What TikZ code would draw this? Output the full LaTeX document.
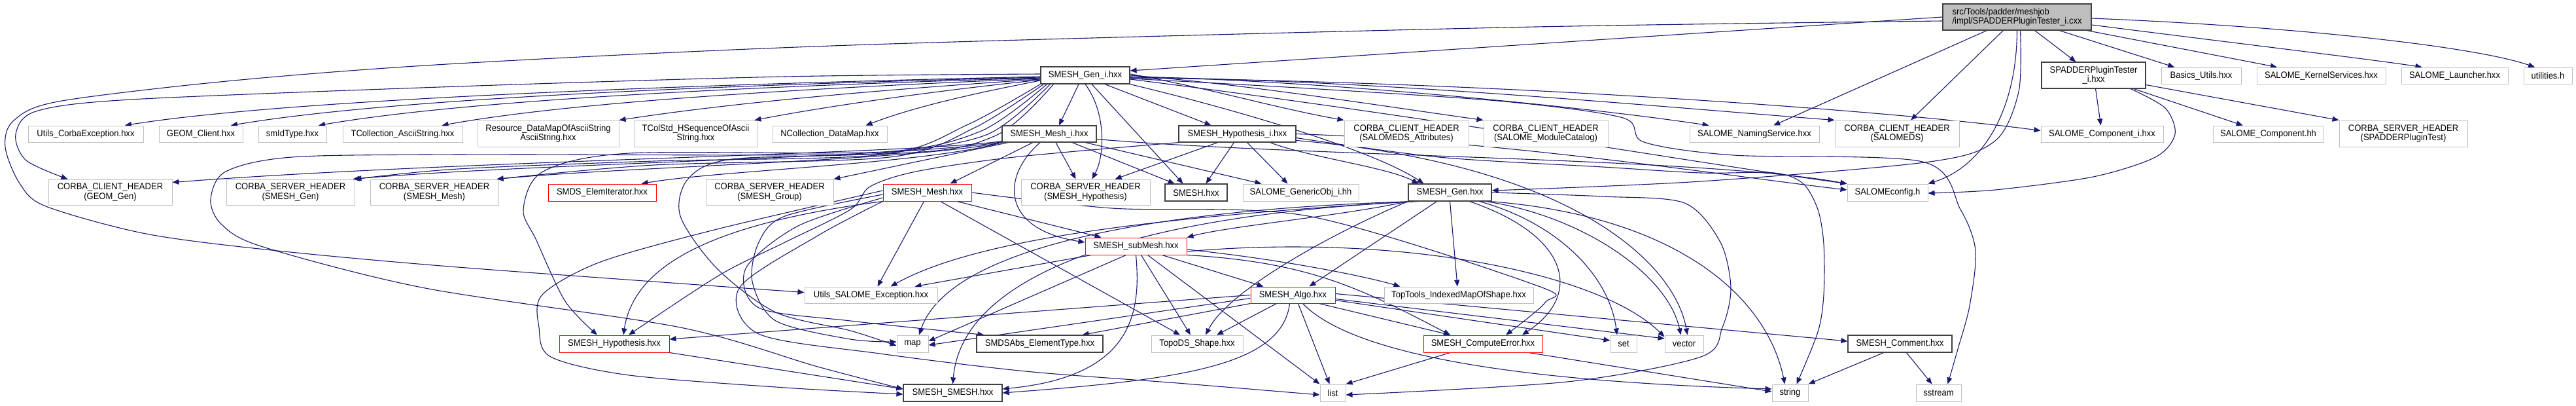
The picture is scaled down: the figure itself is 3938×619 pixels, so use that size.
\documentclass[tikz,border=0pt]{standalone}
\usepackage{fontspec}
\setmainfont{Liberation Sans}[FakeStretch=0.93]
\usetikzlibrary{arrows.meta}
\definecolor{edgec}{HTML}{191970}
\definecolor{gborder}{HTML}{C0C0C0}
\definecolor{kborder}{HTML}{404040}
\definecolor{topfill}{HTML}{BFBFBF}
\pgfdeclarelayer{edgelayer}
\pgfsetlayers{edgelayer,main}
\tikzset{
  nbase/.style={rectangle, inner sep=0pt, fill=white, font=\fontsize{14}{14.3}\selectfont, align=center, text=black, line width=1pt},
  gbox/.style={nbase, draw=gborder},
  rbox/.style={nbase, draw=red},
  kbox/.style={nbase, draw=kborder, line width=1.2pt},
  topbox/.style={nbase, draw=kborder, fill=topfill, line width=1.2pt, align=left},
  sz/.style 2 args={minimum width=#1pt, minimum height=#2pt},
  edg/.style={draw=edgec, line width=1.1pt, -{Triangle[length=10pt,width=8pt]}},
}
\begin{document}
\begin{tikzpicture}[x=1pt,y=-1pt]
\useasboundingbox (0,0) rectangle (3938,619);
% ---------- nodes ----------
\node[topbox, sz={227}{40}] (T) at (3083.5,26) {src/Tools/padder/meshjob\\/impl/SPADDERPluginTester\_i.cxx};
\node[kbox, sz={136}{26}] (Gi) at (1659,115) {SMESH\_Gen\_i.hxx};
\node[kbox, sz={159}{40}] (SPi) at (3200.5,115) {SPADDERPluginTester\\\_i.hxx};
\node[gbox, sz={122}{25}] (BU) at (3365,115.5) {Basics\_Utils.hxx};
\node[gbox, sz={197}{25}] (KS) at (3548.5,115.5) {SALOME\_KernelServices.hxx};
\node[gbox, sz={163}{25}] (SL) at (3752.5,115.5) {SALOME\_Launcher.hxx};
\node[gbox, sz={74}{25}] (UT) at (3895,115.5) {utilities.h};
% row 2
\node[gbox, sz={176}{25}] (UCE) at (131,204.5) {Utils\_CorbaException.hxx};
\node[gbox, sz={128}{25}] (GC) at (307,204.5) {GEOM\_Client.hxx};
\node[gbox, sz={104}{25}] (SI) at (447,204.5) {smIdType.hxx};
\node[gbox, sz={183}{25}] (TCA) at (615.5,204.5) {TCollection\_AsciiString.hxx};
\node[gbox, sz={216}{40}] (RDM) at (838,204) {Resource\_DataMapOfAsciiString\\AsciiString.hxx};
\node[gbox, sz={189}{40}] (TCS) at (1063.5,204) {TColStd\_HSequenceOfAscii\\String.hxx};
\node[gbox, sz={175}{25}] (NCD) at (1268.5,204.5) {NCollection\_DataMap.hxx};
\node[kbox, sz={144}{25}] (Mi) at (1604,204.5) {SMESH\_Mesh\_i.hxx};
\node[kbox, sz={179}{25}] (Hi) at (1891.5,204.5) {SMESH\_Hypothesis\_i.hxx};
\node[gbox, sz={190}{40}] (CCA) at (2150,204) {CORBA\_CLIENT\_HEADER\\(SALOMEDS\_Attributes)};
\node[gbox, sz={190}{40}] (CCM) at (2363,204) {CORBA\_CLIENT\_HEADER\\(SALOME\_ModuleCatalog)};
\node[gbox, sz={198}{25}] (NS) at (2682,204.5) {SALOME\_NamingService.hxx};
\node[gbox, sz={190}{40}] (CCS) at (2900,204) {CORBA\_CLIENT\_HEADER\\(SALOMEDS)};
\node[gbox, sz={187}{25}] (SCi) at (3213.5,204.5) {SALOME\_Component\_i.hxx};
\node[gbox, sz={169}{25}] (SCh) at (3467.5,204.5) {SALOME\_Component.hh};
\node[gbox, sz={196}{40}] (CSP) at (3674,204) {CORBA\_SERVER\_HEADER\\(SPADDERPluginTest)};
% row 3
\node[gbox, sz={189}{39}] (CCG) at (168.5,293.5) {CORBA\_CLIENT\_HEADER\\(GEOM\_Gen)};
\node[gbox, sz={196}{39}] (CSG) at (444,293.5) {CORBA\_SERVER\_HEADER\\(SMESH\_Gen)};
\node[gbox, sz={196}{39}] (CSM) at (664,293.5) {CORBA\_SERVER\_HEADER\\(SMESH\_Mesh)};
\node[rbox, sz={165}{26}] (SEI) at (920.5,294) {SMDS\_ElemIterator.hxx};
\node[gbox, sz={195}{39}] (CSGr) at (1176.5,293.5) {CORBA\_SERVER\_HEADER\\(SMESH\_Group)};
\node[rbox, sz={135}{26}] (SM) at (1417.5,294) {SMESH\_Mesh.hxx};
\node[gbox, sz={197}{39}] (CSH) at (1659.5,293.5) {CORBA\_SERVER\_HEADER\\(SMESH\_Hypothesis)};
\node[kbox, sz={95}{26}] (SH) at (1828.5,294) {SMESH.hxx};
\node[gbox, sz={177}{26}] (GO) at (1988.5,294) {SALOME\_GenericObj\_i.hh};
\node[kbox, sz={127}{26}] (SG) at (2216.5,294) {SMESH\_Gen.hxx};
\node[gbox, sz={123}{26}] (SC) at (2885.5,294) {SALOMEconfig.h};
% row 4
\node[rbox, sz={155}{26}] (SSM) at (1736.5,376) {SMESH\_subMesh.hxx};
% row 5
\node[gbox, sz={203}{25}] (USE) at (1331.5,450.5) {Utils\_SALOME\_Exception.hxx};
\node[rbox, sz={129}{25}] (SA) at (1976.5,450.5) {SMESH\_Algo.hxx};
\node[gbox, sz={228}{25}] (TTI) at (2230,450.5) {TopTools\_IndexedMapOfShape.hxx};
% row 6
\node[rbox, sz={168}{26}] (SHy) at (939,525) {SMESH\_Hypothesis.hxx};
\node[gbox, sz={48}{26}] (MAP) at (1395,525) {map};
\node[kbox, sz={193}{26}] (SET) at (1589.5,525) {SMDSAbs\_ElementType.hxx};
\node[gbox, sz={140}{26}] (TDS) at (1830,525) {TopoDS\_Shape.hxx};
\node[rbox, sz={182}{26}] (SCE) at (2267,525) {SMESH\_ComputeError.hxx};
\node[gbox, sz={40}{26}] (SETS) at (2482,525) {set};
\node[gbox, sz={59}{26}] (VEC) at (2574.5,525) {vector};
\node[kbox, sz={159}{26}] (SCo) at (2904.5,525) {SMESH\_Comment.hxx};
% row 7
\node[kbox, sz={151}{26}] (SS) at (1456.5,600) {SMESH\_SMESH.hxx};
\node[gbox, sz={39}{26}] (LST) at (2037.5,600) {list};
\node[gbox, sz={55}{26}] (STR) at (2736.5,600) {string};
\node[gbox, sz={69}{26}] (SST) at (2963.5,600) {sstream};
% ---------- edges ----------
\begin{pgfonlayer}{edgelayer}
% top file
\draw[edg] (T.west) -- ([yshift=7pt]Gi.east);
\draw[edg] plot[smooth] coordinates {([yshift=-6pt]T.west) (2300,42) (1300,69) (700,97) (357,123) (89,155) (20,185) (8,225) (30,280) (70,315) (223,357) (415,382) (700,408) ([yshift=4pt]USE.west)};
\draw[edg] (T) -- (NS);
\draw[edg] (T) -- (CCS);
\draw[edg] (T.south) .. controls (3083,170) and (3030,255) .. (SC.north east);
\draw[edg] plot[smooth] coordinates {([xshift=5pt]T.south) (3086,140) (3050,215) (2950,247) (2600,277) ([yshift=3pt]SG.east)};
\draw[edg] (T) -- (SPi);
\draw[edg] (T) -- (BU);
\draw[edg] (T) -- (KS);
\draw[edg] ([yshift=-12pt]T.east) .. controls (3450,70) and (3620,90) .. ([xshift=-50pt]SL.north);
\draw[edg] ([yshift=-2pt]T.east) .. controls (3500,40) and (3780,70) .. ([xshift=-20pt]UT.north);
% SPADDERPluginTester_i.hxx
\draw[edg] (SPi) -- (SCi);
\draw[edg] (SPi) -- (SCh);
\draw[edg] (SPi) -- (CSP.north west);
\draw[edg] plot[smooth] coordinates {(SPi.-20) (3310,165) (3325,205) (3295,240) (3200,270) (3050,290) ([yshift=-1pt]SC.east)};
% SMESH_Gen_i.hxx left fan
\draw[edg] ([yshift=-2pt]Gi.west) .. controls (1100,128) and (450,150) .. ([xshift=60pt]UCE.north);
\draw[edg] ([yshift=-3pt]Gi.west) .. controls (1100,130) and (600,150) .. ([xshift=46pt]GC.north);
\draw[edg] ([yshift=-4pt]Gi.west) .. controls (1100,133) and (700,155) .. ([xshift=40pt]SI.north);
\draw[edg] ([yshift=-5pt]Gi.west) .. controls (1150,138) and (850,160) .. ([xshift=60pt]TCA.north);
\draw[edg] ([yshift=-6pt]Gi.west) .. controls (1300,140) and (1100,160) .. (RDM.north east);
\draw[edg] ([yshift=-7pt]Gi.west) .. controls (1400,142) and (1250,165) .. ([xshift=-5pt]TCS.north east);
\draw[edg] ([yshift=-8pt]Gi.west) .. controls (1450,150) and (1380,170) .. ([xshift=55pt]NCD.north);
\draw[edg] plot[smooth] coordinates {([yshift=2pt]Gi.west) (1200,117) (700,132) (200,152) (55,170) (24,205) (40,245) ([xshift=-65pt]CCG.north)};
\draw[edg] plot[smooth] coordinates {(Gi.south west) (1480,190) (1350,236) (1000,246) (700,258) (CSG.north east)};
\draw[edg] plot[smooth] coordinates {([xshift=5pt]Gi.south west) (1490,195) (1360,240) (1000,252) ([xshift=-3pt]CSM.north east)};
\draw[edg] plot[smooth] coordinates {([xshift=10pt]Gi.south west) (1500,200) (1350,232) (962,234) (830,262) (800,320) (820,367) (864,460) ([xshift=-26pt]SHy.north)};
\draw[edg] plot[smooth] coordinates {([xshift=15pt]Gi.south west) (1510,205) (1350,234) (1119,243) (1052,273) (1040,330) (1096,410) (1186,477) (1300,505) ([yshift=-3pt]MAP.west)};
\draw[edg] plot[smooth] coordinates {([xshift=20pt]Gi.south west) (1520,208) (1350,235) (700,236) (446,240) (345,262) (322,305) (339,343) (402,377) (650,440) (1040,500) (1250,560) ([yshift=6pt]SS.west)};
% SMESH_Gen_i.hxx down
\draw[edg] ([xshift=-10pt]Gi.south) -- ([xshift=15pt]Mi.north);
\draw[edg] (Gi.south) .. controls (1690,170) and (1690,235) .. ([xshift=10pt]CSH.north);
\draw[edg] ([xshift=10pt]Gi.south) -- ([xshift=-20pt]SH.north);
\draw[edg] ([xshift=30pt]Gi.south) -- ([xshift=-40pt]Hi.north);
% SMESH_Gen_i.hxx right fan
\draw[edg] ([yshift=2pt]Gi.east) .. controls (1850,135) and (1950,165) .. (CCA.north west);
\draw[edg] (Gi.east) .. controls (1900,128) and (2100,160) .. (CCM.north west);
\draw[edg] ([yshift=-2pt]Gi.east) .. controls (2000,122) and (2400,160) .. ([xshift=30pt]NS.north west);
\draw[edg] ([yshift=-3pt]Gi.east) .. controls (2100,122) and (2500,160) .. (CCS.north west);
\draw[edg] ([yshift=-4pt]Gi.east) .. controls (2300,125) and (2900,170) .. ([yshift=5pt]SCi.west);
\draw[edg] ([yshift=-6pt]Gi.east) .. controls (2200,180) and (2600,250) .. (SC.north west);
\draw[edg] (Gi.south east) .. controls (1900,170) and (2100,230) .. ([xshift=-40pt]SG.north);
\draw[edg] plot[smooth] coordinates {([yshift=-5pt]Gi.east) (2000,135) (2300,155) (2481,180) (2513,217) (2650,237) (2939,247) (2997,320) (3020,383) (3011,467) (2993,533) ([xshift=14pt]SST.north)};
% SMESH_Mesh_i.hxx
\draw[edg] ([xshift=-25pt]Mi.south) -- ([xshift=35pt]SM.north);
\draw[edg] ([xshift=-14pt]Mi.south) .. controls (1530,270) and (1530,350) .. ([yshift=6pt]SSM.west);
\draw[edg] ([xshift=10pt]Mi.south) -- ([xshift=-15pt]CSH.north);
\draw[edg] ([xshift=35pt]Mi.south) -- ([xshift=-33pt]SH.north);
\draw[edg] ([xshift=55pt]Mi.south) -- ([xshift=-60pt]GO.north);
\draw[edg] ([yshift=-8pt]Mi.east) .. controls (2000,240) and (2600,240) .. (SC.north west);
\draw[edg] ([yshift=2pt]Mi.south west) .. controls (1400,235) and (700,245) .. ([yshift=-5pt]CCG.north east);
\draw[edg] ([yshift=1pt]Mi.south west) .. controls (1400,240) and (800,250) .. ([xshift=-3pt]CSG.north east);
\draw[edg] (Mi.south west) .. controls (1400,245) and (950,255) .. ([xshift=-3pt]CSM.north east);
\draw[edg] (Mi.south west) .. controls (1420,250) and (1100,260) .. ([xshift=60pt]SEI.north);
\draw[edg] ([xshift=10pt]Mi.south west) -- (CSGr.north east);
% SMESH_Hypothesis_i.hxx
\draw[edg] ([xshift=-30pt]Hi.south) -- ([xshift=45pt]CSH.north);
\draw[edg] ([xshift=-5pt]Hi.south) -- ([xshift=15pt]SH.north);
\draw[edg] ([xshift=15pt]Hi.south) -- ([xshift=-20pt]GO.north);
\draw[edg] ([xshift=50pt]Hi.south) .. controls (2000,240) and (2120,255) .. ([xshift=-48pt]SG.north);
\draw[edg] (Hi.east) .. controls (2300,215) and (2650,270) .. ([yshift=4pt]SC.west);
\draw[edg] plot[smooth] coordinates {([yshift=-6pt]Hi.east) (2200,240) (2450,255) (2600,264) (2712,264) (2756,280) (2779,320) (2788,373) (2788,450) (2779,507) ([xshift=10pt]STR.north)};
\draw[edg] ([yshift=-10pt]Hi.east) .. controls (2400,250) and (2560,400) .. ([xshift=5pt]VEC.north);
\draw[edg] plot[smooth] coordinates {(Hi.south west) (1550,240) (1400,262) (1330,285) (1300,320) (1200,370) (1100,420) ([xshift=22pt]SHy.north)};
% SMESH_Mesh.hxx
\draw[edg] ([xshift=-5pt]SM.south) -- ([xshift=10pt]USE.north);
\draw[edg] ([xshift=45pt]SM.south) -- ([xshift=-53pt]SSM.north);
\draw[edg] ([xshift=20pt]SM.south) -- ([xshift=-26pt]TDS.north);
\draw[edg] (SM.south west) .. controls (1100,340) and (970,400) .. ([xshift=14pt]SHy.north);
\draw[edg] plot[smooth] coordinates {([yshift=3pt]SM.west) (1096,350) (918,400) (829,450) (824,500) (842,545) (962,573) (1200,592) ([yshift=-2pt]SS.west)};
\draw[edg] plot[smooth] coordinates {([yshift=-3pt]SM.west) (1200,330) (1160,370) (1150,430) (1186,490) (1300,518) ([yshift=3pt]MAP.west)};
\draw[edg] plot[smooth] coordinates {([yshift=-8pt]SM.west) (1220,345) (1140,410) (1160,470) (1300,490) ([xshift=-85pt]SET.north)};
\draw[edg] plot[smooth] coordinates {(SM.south west) (1250,360) (1130,440) (1160,510) (1345,540) (1568,567) (1800,585) ([yshift=-3pt]LST.west)};
\draw[edg] plot[smooth] coordinates {(SM.east) (1700,318) (2000,330) (2352,437) (2362,462) ([xshift=35pt]SCE.north)};
% SMESH_subMesh.hxx
\draw[edg] ([xshift=10pt]SSM.south west) -- ([xshift=-35pt]USE.north east);
\draw[edg] ([xshift=-15pt]SSM.south) -- ([yshift=4pt]MAP.east);
\draw[edg] (SSM.south) .. controls (1745,480) and (1730,575) .. ([yshift=6pt]SS.east);
\draw[edg] ([xshift=8pt]SSM.south) -- ([xshift=-10pt]TDS.north);
\draw[edg] ([xshift=40pt]SSM.south) -- ([xshift=-45pt]SA.north);
\draw[edg] ([xshift=18pt]SSM.south) -- (LST.north west);
\draw[edg] (SSM.south east) .. controls (2000,400) and (2080,440) .. ([xshift=-50pt]SCE.north);
\draw[edg] ([yshift=-5pt]SSM.east) .. controls (1950,395) and (2080,420) .. ([xshift=25pt]TTI.north west);
\draw[edg] ([yshift=-8pt]SSM.east) .. controls (2150,355) and (2450,420) .. ([yshift=-3pt]VEC.north west);
% SMESH_Gen.hxx
\draw[edg] (SG.south west) .. controls (2050,330) and (1880,345) .. (SSM.north east);
\draw[edg] ([xshift=5pt]SG.south west) .. controls (1800,330) and (1500,360) .. ([xshift=30pt]USE.north);
\draw[edg] ([xshift=10pt]SG.south west) .. controls (1750,320) and (1450,380) .. ([xshift=10pt]MAP.north);
\draw[edg] ([xshift=15pt]SG.south west) .. controls (1700,330) and (1470,430) .. (SS.north);
\draw[edg] ([xshift=-20pt]SG.south) -- ([xshift=25pt]SA.north);
\draw[edg] (SG.south) -- ([xshift=-2pt]TTI.north);
\draw[edg] ([xshift=30pt]SG.south) .. controls (2400,360) and (2420,450) .. ([xshift=60pt]SCE.north);
\draw[edg] ([xshift=45pt]SG.south) .. controls (2380,340) and (2460,420) .. ([xshift=-10pt]SETS.north);
\draw[edg] ([xshift=55pt]SG.south) .. controls (2420,330) and (2550,420) .. ([xshift=-5pt]VEC.north);
\draw[edg] (SG.south west) .. controls (2050,350) and (1880,440) .. ([xshift=13pt]TDS.north);
\draw[edg] plot[smooth] coordinates {(SG.east) (2450,300) (2575,310) (2630,370) (2646,440) (2633,500) (2600,545) (2396,583) ([yshift=-3pt]LST.east)};
\draw[edg] ([xshift=62pt]SG.south) .. controls (2560,330) and (2700,450) .. ([xshift=-8pt]STR.north);
% SMESH_Algo.hxx
\draw[edg] (SA.west) -- ([yshift=7pt]SHy.east);
\draw[edg] ([yshift=-5pt]SA.west) -- ([yshift=-2pt]MAP.east);
\draw[edg] (SA.south west) -- ([xshift=65pt]SET.north);
\draw[edg] ([xshift=-25pt]SA.south) -- ([xshift=30pt]TDS.north);
\draw[edg] ([xshift=-5pt]SA.south) .. controls (1960,560) and (1800,580) .. (SS.east);
\draw[edg] ([xshift=8pt]SA.south) -- ([xshift=-5pt]LST.north);
\draw[edg] ([xshift=40pt]SA.south) -- ([xshift=-50pt]SCE.north);
\draw[edg] ([yshift=-8pt]SA.east) -- ([yshift=5pt]SETS.west);
\draw[edg] ([yshift=-6pt]SA.east) -- ([yshift=8pt]VEC.west);
\draw[edg] ([yshift=2pt]SA.east) -- ([yshift=4pt]SCo.west);
\draw[edg] ([xshift=15pt]SA.south) .. controls (2080,555) and (2400,585) .. ([yshift=6pt]STR.west);
% others
\draw[edg] ([xshift=-50pt]SCE.south) -- (LST.north east);
\draw[edg] ([xshift=70pt]SCE.south) -- ([yshift=2pt]STR.west);
\draw[edg] ([xshift=-25pt]SCo.south) -- (STR.north east);
\draw[edg] ([xshift=10pt]SCo.south) -- ([xshift=-10pt]SST.north);
\draw[edg] (SHy.south east) -- ([yshift=6pt]SS.west);
\end{pgfonlayer}
\end{tikzpicture}
\end{document}
